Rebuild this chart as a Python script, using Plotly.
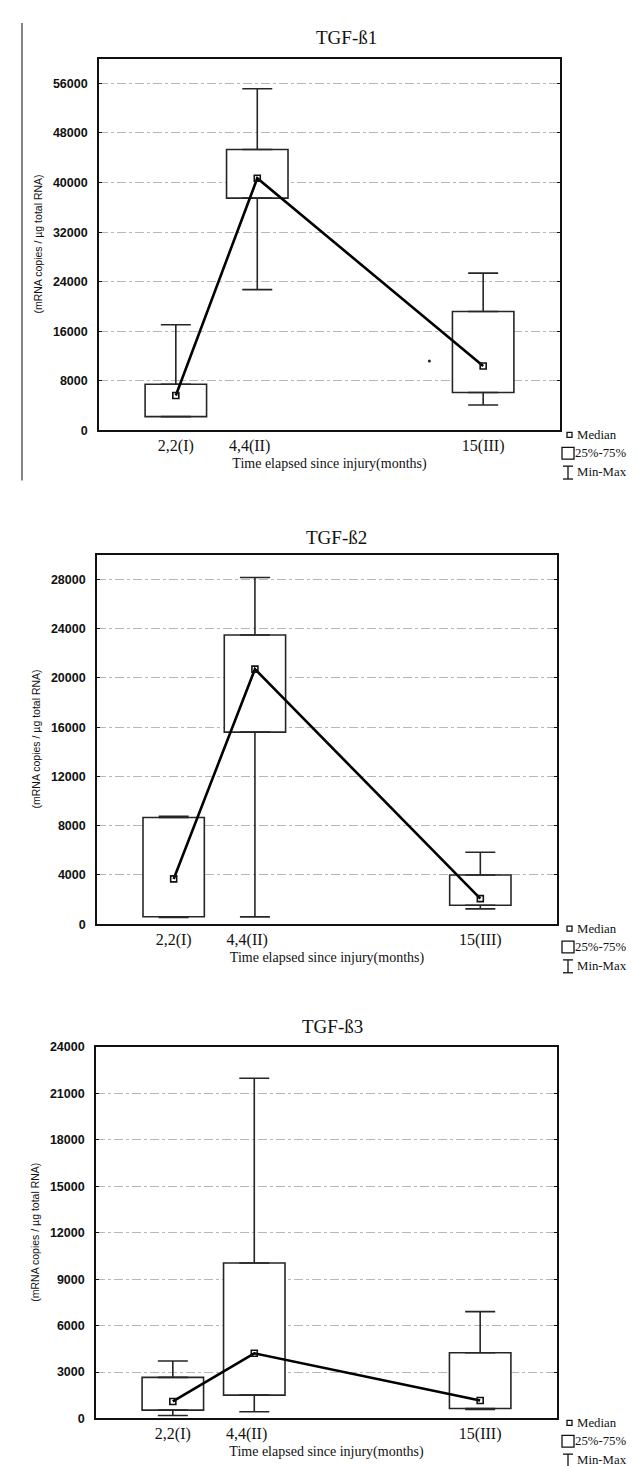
import plotly.graph_objects as go

# ---------------- data ----------------
groups = ["2,2(I)", "4,4(II)", "15(III)"]
x_pos = [1.0, 1.53, 3.0]            # group positions on the time axis
label_pos = [1.0, 1.48, 3.0]        # where the group labels sit
panel_titles = ["TGF-ß1", "TGF-ß2", "TGF-ß3"]

# TGF-beta1
b1_min = [2240, 22720, 4110]
b1_q1 = [2240, 37490, 6130]
b1_med = [5650, 40690, 10400]
b1_q3 = [7470, 45330, 19200]
b1_max = [17070, 55130, 25380]
b1_extra_x = [2.65]
b1_extra_y = [11200]

# TGF-beta2
b2_min = [560, 600, 1250]
b2_q1 = [610, 15600, 1544]
b2_med = [3680, 20720, 2080]
b2_q3 = [8670, 23490, 4000]
b2_max = [8770, 28160, 5840]

# TGF-beta3
b3_min = [195, 430, 580]
b3_q1 = [540, 1510, 647]
b3_med = [1100, 4210, 1165]
b3_q3 = [2655, 10050, 4250]
b3_max = [3712, 21980, 6906]

y_ranges = [[0, 60000], [0, 30000], [0, 24000]]
y_dticks = [8000, 4000, 3000]

W, H = 638, 1466
# panel geometry in pixels: (left, right, top, bottom)
geom = [(91, 552, 44, 419.5), (89, 549, 545, 918), (88, 549, 1042, 1417)]
title_x = [338, 328, 324]
title_y = [23, 528, 1021]


def px(x):
    return x / W


def py(y):
    return 1 - y / H


panels = [
    (b1_min, b1_q1, b1_med, b1_q3, b1_max),
    (b2_min, b2_q1, b2_med, b2_q3, b2_max),
    (b3_min, b3_q1, b3_med, b3_q3, b3_max),
]

fig = go.Figure()
layout = {}
annotations = []
shapes = []

serif = "Liberation Serif"
sans = "Liberation Sans"
edge = "#262626"

for i, (mn, q1, med, q3, mx) in enumerate(panels):
    n = i + 1
    xa = "x" if n == 1 else f"x{n}"
    ya = "y" if n == 1 else f"y{n}"
    xt = f"x{n + 3}"
    l, r, t, b = geom[i]

    # boxes (25%-75%)
    fig.add_trace(go.Bar(
        x=x_pos, base=q1, y=[a - c for a, c in zip(q3, q1)], width=0.4,
        marker=dict(color="white", line=dict(color=edge, width=1.6)),
        xaxis=xa, yaxis=ya, showlegend=False, hoverinfo="skip"))
    # upper whiskers
    fig.add_trace(go.Scatter(
        x=x_pos, y=q3, mode="markers", marker=dict(size=1, opacity=0),
        error_y=dict(type="data", symmetric=False,
                     array=[a - c for a, c in zip(mx, q3)],
                     arrayminus=[0] * len(q3), width=15, thickness=1.6, color=edge),
        xaxis=xa, yaxis=ya, showlegend=False, hoverinfo="skip"))
    # lower whiskers
    fig.add_trace(go.Scatter(
        x=x_pos, y=q1, mode="markers", marker=dict(size=1, opacity=0),
        error_y=dict(type="data", symmetric=False, array=[0] * len(q1),
                     arrayminus=[c - a for a, c in zip(mn, q1)],
                     width=15, thickness=1.6, color=edge),
        xaxis=xa, yaxis=ya, showlegend=False, hoverinfo="skip"))
    # medians connected
    fig.add_trace(go.Scatter(
        x=x_pos, y=med, mode="lines+markers",
        line=dict(color="black", width=2.6),
        marker=dict(symbol="square-open", size=6, color="#111",
                    line=dict(width=1.6, color="#111")),
        xaxis=xa, yaxis=ya, showlegend=False))
    if n == 1:
        fig.add_trace(go.Scatter(
            x=b1_extra_x, y=b1_extra_y, mode="markers",
            marker=dict(size=3, color="#222"),
            xaxis=xa, yaxis=ya, showlegend=False))

    xdom = [px(l), px(r)]
    ydom = [py(b), py(t)]
    layout[xa.replace("x", "xaxis")] = dict(
        domain=xdom, anchor=ya, range=[0.5, 3.5],
        tickvals=label_pos, ticktext=groups, ticks="",
        tickfont=dict(family=serif, size=16, color="#111"),
        showline=True, linecolor="#111", linewidth=1.6, mirror=True,
        showgrid=False, zeroline=False, fixedrange=True,
        title=dict(text="Time elapsed since injury(months)",
                   font=dict(family=serif, size=14, color="#111"), standoff=4))
    # tick marks only (inside, mirrored)
    layout[xt.replace("x", "xaxis")] = dict(
        domain=xdom, anchor=ya, overlaying=xa, range=[0.5, 3.5],
        tickvals=[1, 2, 3], ticks="inside", ticklen=4, tickwidth=1.4,
        tickcolor="#111", showticklabels=False, mirror="ticks",
        showline=False, showgrid=False, zeroline=False, fixedrange=True)
    layout[ya.replace("y", "yaxis")] = dict(
        domain=ydom, anchor=xa, range=y_ranges[i], dtick=y_dticks[i], tick0=0,
        tickformat="d",
        ticks="inside", ticklen=3, tickcolor="#111", mirror="ticks",
        showline=True, linecolor="#111", linewidth=1.6,
        showgrid=True, gridcolor="#b8b8b8", gridwidth=1, griddash="dashdot",
        zeroline=False, fixedrange=True, ticklabelstandoff=7,
        tickfont=dict(family=sans, size=12.5, color="#111", weight="bold"))

    # titles
    annotations.append(dict(text=panel_titles[i], x=px(title_x[i]), y=py(title_y[i]),
                            xref="paper", yref="paper", showarrow=False,
                            xanchor="center", yanchor="middle",
                            font=dict(family=serif, size=19, color="#111")))
    annotations.append(dict(text="(mRNA copies / µg total RNA)", x=px(l - 61),
                            y=py((t + b) / 2), xref="paper", yref="paper",
                            showarrow=False, textangle=-90, xanchor="center",
                            yanchor="middle",
                            font=dict(family=sans, size=10.5, color="#111")))

    # custom legend
    lg = [("Median", b + 4.5, 568), ("25%-75%", b + 23, 566), ("Min-Max", b + 42, 568)]
    for txt, yy, xx in lg:
        annotations.append(dict(text=txt, x=px(xx), y=py(yy), xref="paper",
                                yref="paper", showarrow=False, xanchor="left",
                                yanchor="middle", borderpad=0,
                                font=dict(family=serif, size=12.8, color="#111")))
    shapes.append(dict(type="rect", xref="paper", yref="paper",
                       x0=px(559), x1=px(564), y0=py(b + 2), y1=py(b + 7),
                       line=dict(color="#111", width=1.3)))
    shapes.append(dict(type="rect", xref="paper", yref="paper",
                       x0=px(554), x1=px(566), y0=py(b + 17), y1=py(b + 29),
                       line=dict(color="#111", width=1.3)))
    shapes.append(dict(type="line", xref="paper", yref="paper",
                       x0=px(560), x1=px(560), y0=py(b + 36), y1=py(b + 49),
                       line=dict(color="#111", width=1.3)))
    for yy in (b + 36, b + 49):
        shapes.append(dict(type="line", xref="paper", yref="paper",
                           x0=px(555), x1=px(565), y0=py(yy), y1=py(yy),
                           line=dict(color="#111", width=1.3)))

# page border line on the left of the first panel
shapes.append(dict(type="line", xref="paper", yref="paper",
                   x0=px(14), x1=px(14), y0=py(8), y1=py(470),
                   line=dict(color="#333", width=1.2)))

fig.update_layout(
    width=W, height=H, margin=dict(l=0, r=0, t=0, b=0),
    paper_bgcolor="white", plot_bgcolor="white",
    annotations=annotations, shapes=shapes, showlegend=False,
    barmode="overlay", **layout)

fig.write_html("out.html")
